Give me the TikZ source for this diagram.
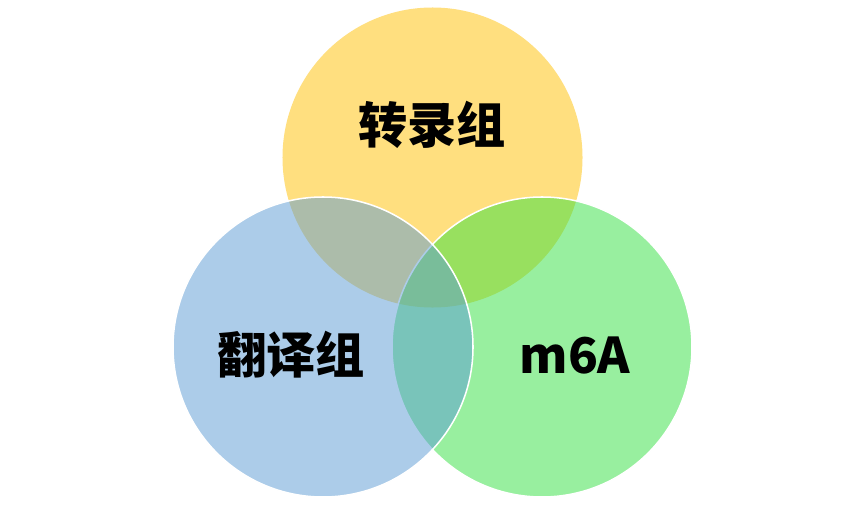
\documentclass[tikz,border=0pt]{standalone}
\usepackage{fontspec}
\newfontfamily\cjk{Noto Sans CJK SC}
\usetikzlibrary{positioning}
\definecolor{trgold}{HTML}{FFC000}
\definecolor{tlblue}{HTML}{5B9BD5}
\definecolor{mgreen}{HTML}{32E141}

\begin{document}
\begin{tikzpicture}[
  x=0.03cm, y=-0.03cm,
  setcircle/.style={
    circle, fill=#1, fill opacity=0.5, minimum size=9cm, inner sep=0pt
  },
  edged/.style={draw=white, draw opacity=1, line width=1.3pt},
  setlabel/.style={font=\cjk\bfseries\fontsize{42}{50}\selectfont, text=black,
    inner sep=0pt},
]

% ============================================================
% Canvas
% ============================================================
\fill[white] (0,0) rectangle (865,505);
\useasboundingbox (0,0) rectangle (865,505);

% ============================================================
% Circles: yellow first, then green, blue on top
% ============================================================
\node[setcircle=trgold] (trans) at (432.5,157.5) {};
\node[setcircle=mgreen, edged] (msixa) at (542,347) {};
\node[setcircle=tlblue, edged] (transl) at (323,347) {};

% ============================================================
% Labels
% ============================================================
\node[setlabel] (trans-label) at (432,125) {转录组};
\node[setlabel] (transl-label) at (291,355) {翻译组};
\node[setlabel] (msixa-label) at (575,356) {m6A};

\end{tikzpicture}
\end{document}
